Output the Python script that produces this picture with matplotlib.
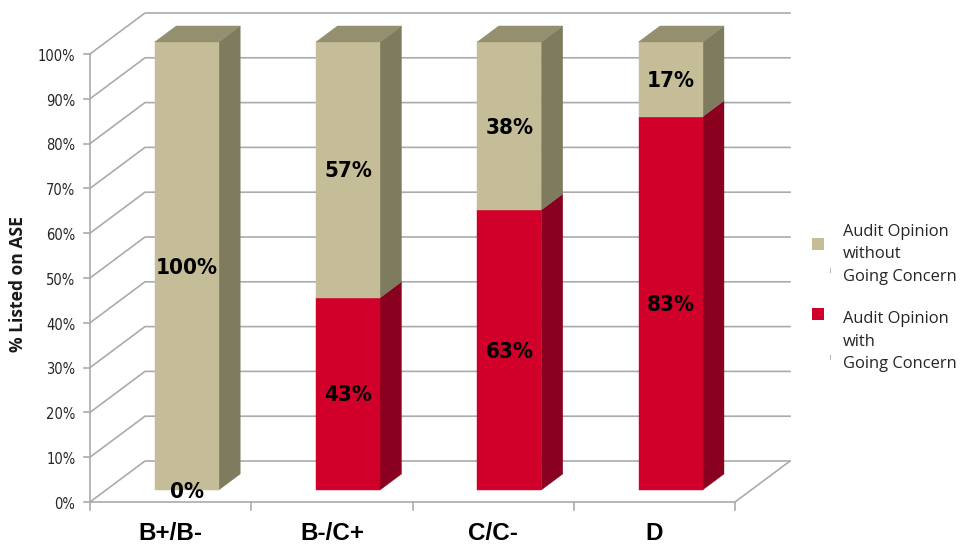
import matplotlib
matplotlib.use("Agg")
import matplotlib.pyplot as plt
from matplotlib.patches import Rectangle

categories = ["B+/B-", "B-/C+", "C/C-", "D"]
with_gc = [0, 42.9, 62.5, 83.3]
without_gc = [100, 57.1, 37.5, 16.7]
with_labels = ["0%", "43%", "63%", "83%"]
without_labels = ["100%", "57%", "38%", "17%"]
yticks = [0, 10, 20, 30, 40, 50, 60, 70, 80, 90, 100]
legend_labels = ["Audit Opinion\nwithout\nGoing Concern", "Audit Opinion\nwith\nGoing Concern"]

TAN = ("#C4BD97", "#7F7B5E", "#948F6F")
RED = ("#D0002A", "#8A001F", "#8A001F")
GRID = "#ABABAB"

# oblique 3d look: one depth unit moves a point back and up
DX, DY = 0.341, 9.15
D1, D2 = 0.293, 0.683
BAR_W = 0.397


def proj(x, y, d):
    return x + d * DX, y + d * DY


def face(ax, pts, color):
    xs, ys = zip(*[proj(*p) for p in pts])
    ax.fill(xs, ys, color=color, lw=0.3, zorder=3)


fig = plt.figure(figsize=(9.6, 5.44), dpi=100)
ax = fig.add_axes([0, 0, 1, 1])
ax.set_xlim(-0.558, 5.395)
ax.set_ylim(-9.375, 112.05)
ax.axis("off")

n = len(categories)

# walls and floor
for t in yticks:
    x0, y0 = proj(0, t, 0)
    x1, y1 = proj(0, t, 1)
    x2, y2 = proj(n, t, 1)
    ax.plot([x0, x1, x2], [y0, y1, y2], color=GRID, lw=1.2, zorder=1)
    ax.plot([x0 - 0.035, x0], [y0, y0], color=GRID, lw=1.2, zorder=1)
    ax.text(x0 - 0.09, t - 0.5, f"{t}%", ha="right", va="center", fontsize=10.5,
            color="#262626", family="DejaVu Sans", stretch="condensed")
ax.plot([0, 0], [0, 100], color=GRID, lw=1.2, zorder=1)
fx, fy = proj(n, 0, 1)
ax.plot([0, n, fx], [0, 0, fy], color=GRID, lw=1.2, zorder=1)
for i in range(n + 1):
    ax.plot([i, i], [0, -1.7], color=GRID, lw=1.2, zorder=1)

# bars
for i in range(n):
    x0 = i + 0.5 - BAR_W / 2
    x1 = x0 + BAR_W
    base = 0
    for val, cols in ((with_gc[i], RED), (without_gc[i], TAN)):
        if val == 0:
            continue
        top = base + val
        face(ax, [(x1, base, D1), (x1, base, D2), (x1, top, D2), (x1, top, D1)], cols[1])
        face(ax, [(x0, base, D1), (x1, base, D1), (x1, top, D1), (x0, top, D1)], cols[0])
        base = top
    face(ax, [(x0, base, D1), (x1, base, D1), (x1, base, D2), (x0, base, D2)], TAN[2])

    # value labels sit on the front face
    cx, _ = proj(i + 0.5, 0, D1)
    _, y_off = proj(0, 0, D1)
    ax.text(cx, y_off + with_gc[i] / 2 - 0.35, with_labels[i], ha="center", va="center",
            fontsize=16, fontweight="bold", family="DejaVu Sans", stretch="condensed",
            color="black", zorder=5)
    if without_gc[i] > 0:
        ax.text(cx, y_off + with_gc[i] + without_gc[i] / 2 - 0.35, without_labels[i], ha="center",
                va="center", fontsize=16, fontweight="bold", family="DejaVu Sans",
                stretch="condensed", color="black", zorder=5)
    ax.text(i + 0.5, -7, categories[i], ha="center", va="center", fontsize=17.5,
            fontweight="bold", family="Liberation Sans", color="black")

# y label and legend are placed in figure pixels
fig.text(18 / 960, 1 - 284 / 544, "% Listed on ASE", rotation=90, ha="center", va="center",
         fontsize=12.6, fontweight="bold", family="Open Sans", color="#1a1a1a")

legend_tops = [238, 308]
legend_text_y = [254.5, 341.5]
legend_cols = [TAN[0], RED[0]]
for top, ty, lab, col in zip(legend_tops, legend_text_y, legend_labels, legend_cols):
    fig.add_artist(Rectangle((812 / 960, 1 - (top + 12) / 544), 12 / 960, 12 / 544,
                             transform=fig.transFigure, color=col, lw=0))
    fig.add_artist(Rectangle((830 / 960, 1 - (ty + 18) / 544), 1 / 960, 5 / 544,
                             transform=fig.transFigure, color="#B5B5B5", lw=0))
    fig.text(843 / 960, 1 - ty / 544, lab, ha="left", va="center", fontsize=11.9,
             family="Open Sans", color="#262626", linespacing=1.53)

fig.savefig("out.png", dpi=100)
